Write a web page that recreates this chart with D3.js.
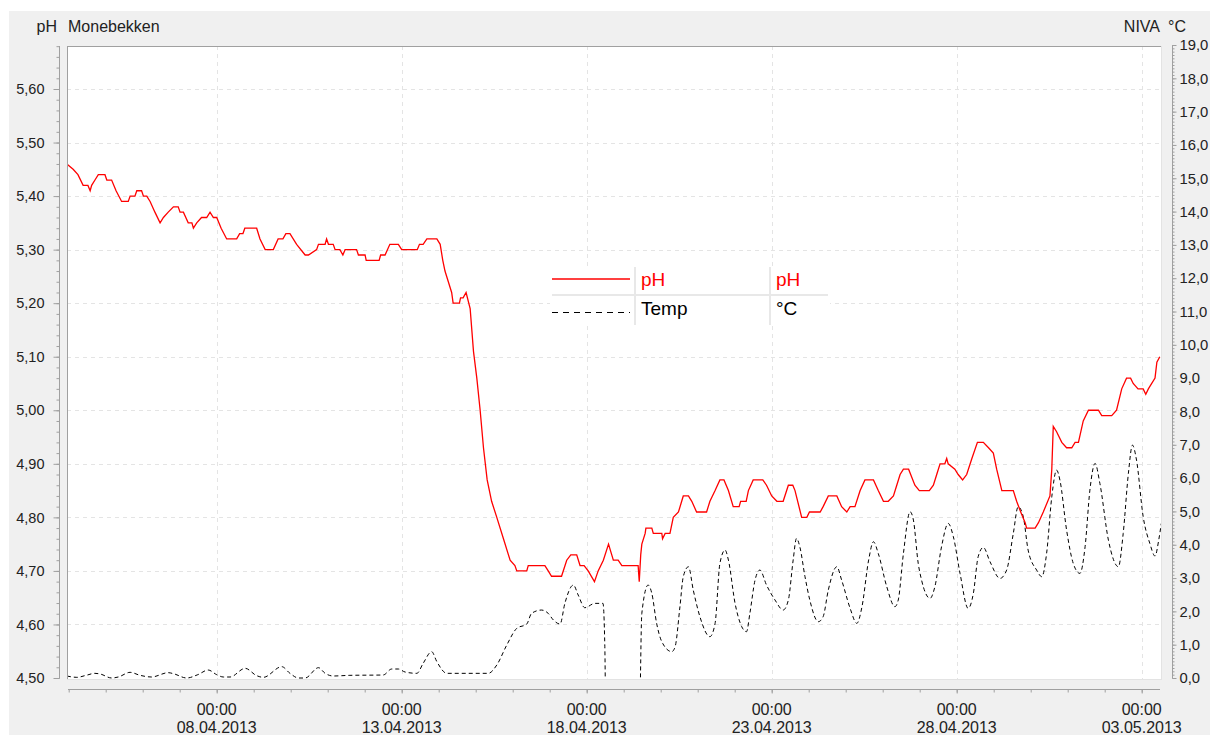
<!DOCTYPE html>
<html><head><meta charset="utf-8">
<script src="https://cdn.jsdelivr.net/npm/d3@7"></script>
<style>
body{margin:0;background:#fff}
svg{display:block}
text{font-family:"Liberation Sans",Arial,sans-serif}
</style>
</head><body>
<svg id="c" width="1210" height="735"></svg>
<script>
// ---- data (day offset from 04.04.2013 00:00 UTC, value) ----
const startDate = Date.UTC(2013, 3, 4);
const phData = [
[-0.05,5.46],[0.12,5.45],[0.25,5.44],[0.39,5.42],[0.52,5.42],[0.58,5.41],[0.62,5.42],[0.71,5.43],[0.80,5.44],[0.98,5.44],
[1.03,5.43],[1.16,5.43],[1.28,5.41],[1.43,5.39],[1.61,5.39],[1.66,5.40],[1.79,5.40],[1.84,5.41],[1.97,5.41],[2.02,5.40],
[2.11,5.40],[2.20,5.39],[2.33,5.37],[2.47,5.35],[2.56,5.36],[2.69,5.37],[2.83,5.38],[2.96,5.38],[3.01,5.37],[3.10,5.37],
[3.23,5.35],[3.33,5.35],[3.37,5.34],[3.46,5.35],[3.59,5.36],[3.73,5.36],[3.82,5.37],[3.91,5.36],[4.00,5.36],[4.12,5.34],
[4.27,5.32],[4.54,5.32],[4.62,5.33],[4.71,5.33],[4.76,5.34],[5.08,5.34],[5.17,5.32],[5.31,5.30],[5.53,5.30],[5.66,5.32],
[5.79,5.32],[5.87,5.33],[5.98,5.33],[6.16,5.31],[6.39,5.29],[6.48,5.29],[6.70,5.30],[6.75,5.31],[6.93,5.31],[6.97,5.32],
[7.02,5.31],[7.15,5.31],[7.20,5.30],[7.33,5.30],[7.41,5.29],[7.47,5.30],[7.78,5.30],[7.83,5.29],[8.01,5.29],[8.04,5.28],
[8.39,5.28],[8.43,5.29],[8.55,5.29],[8.68,5.31],[8.91,5.31],[9.00,5.30],[9.42,5.30],[9.48,5.31],[9.58,5.31],[9.68,5.32],
[9.95,5.32],[10.04,5.31],[10.11,5.28],[10.17,5.26],[10.26,5.24],[10.35,5.22],[10.39,5.20],[10.56,5.20],[10.59,5.21],[10.66,5.21],
[10.74,5.22],[10.85,5.19],[10.94,5.11],[11.03,5.06],[11.12,5.00],[11.21,4.93],[11.31,4.87],[11.43,4.83],[11.57,4.80],[11.75,4.76],
[11.93,4.72],[12.06,4.71],[12.11,4.70],[12.38,4.70],[12.42,4.71],[12.87,4.71],[12.96,4.70],[13.05,4.69],[13.32,4.69],[13.46,4.72],
[13.57,4.73],[13.73,4.73],[13.82,4.71],[13.93,4.71],[14.04,4.70],[14.21,4.68],[14.31,4.70],[14.45,4.72],[14.59,4.75],[14.72,4.72],
[14.85,4.72],[14.95,4.71],[15.39,4.71],[15.42,4.68],[15.46,4.73],[15.49,4.75],[15.58,4.77],[15.60,4.78],[15.76,4.78],[15.80,4.77],
[16.03,4.77],[16.05,4.76],[16.12,4.77],[16.25,4.77],[16.34,4.80],[16.48,4.81],[16.61,4.84],[16.75,4.84],[16.84,4.83],[16.97,4.81],
[17.24,4.81],[17.33,4.83],[17.47,4.85],[17.60,4.87],[17.71,4.87],[17.83,4.85],[17.96,4.82],[18.12,4.82],[18.16,4.83],[18.31,4.83],
[18.37,4.85],[18.50,4.87],[18.76,4.87],[18.86,4.86],[19.00,4.84],[19.14,4.83],[19.31,4.83],[19.45,4.86],[19.57,4.86],[19.63,4.85],
[19.81,4.80],[19.95,4.80],[20.02,4.81],[20.31,4.81],[20.39,4.82],[20.53,4.84],[20.76,4.84],[20.89,4.82],[21.03,4.81],[21.12,4.82],
[21.25,4.82],[21.39,4.85],[21.52,4.87],[21.75,4.87],[21.88,4.85],[22.02,4.83],[22.15,4.83],[22.29,4.84],[22.38,4.86],[22.47,4.88],
[22.56,4.89],[22.70,4.89],[22.87,4.86],[22.99,4.85],[23.26,4.85],[23.37,4.86],[23.46,4.88],[23.55,4.90],[23.68,4.90],[23.73,4.91],
[23.77,4.90],[23.95,4.89],[24.04,4.88],[24.16,4.87],[24.27,4.88],[24.41,4.91],[24.56,4.94],[24.72,4.94],[24.86,4.93],[24.99,4.92],
[25.08,4.89],[25.22,4.85],[25.53,4.85],[25.62,4.83],[25.73,4.81],[25.85,4.79],[25.89,4.78],[26.12,4.78],[26.21,4.79],[26.34,4.81],
[26.52,4.84],[26.57,4.89],[26.61,4.97],[26.70,4.96],[26.84,4.94],[26.97,4.93],[27.11,4.93],[27.20,4.94],[27.29,4.94],[27.42,4.98],
[27.56,5.00],[27.83,5.00],[27.92,4.99],[28.19,4.99],[28.32,5.00],[28.46,5.04],[28.59,5.06],[28.70,5.06],[28.77,5.05],[28.90,5.04],
[29.04,5.04],[29.11,5.03],[29.18,5.04],[29.36,5.06],[29.41,5.09],[29.49,5.10]
];
const tempData = [
[-0.05,0.06],[0.22,0.02],[0.47,0.08],[0.71,0.14],[0.85,0.12],[1.16,0.00],[1.34,0.03],[1.66,0.17],[1.93,0.08],[2.24,0.03],
[2.69,0.16],[2.83,0.13],[3.19,0.00],[3.49,0.10],[3.77,0.24],[4.00,0.10],[4.18,0.03],[4.36,0.03],[4.77,0.29],[5.08,0.07],
[5.26,0.02],[5.76,0.34],[5.98,0.14],[6.21,0.00],[6.39,0.00],[6.75,0.31],[6.93,0.14],[7.15,0.06],[7.60,0.08],[8.50,0.09],
[8.73,0.27],[8.91,0.27],[9.09,0.18],[9.41,0.14],[9.58,0.44],[9.81,0.79],[9.95,0.49],[10.22,0.14],[10.76,0.14],[11.34,0.14],
[11.57,0.39],[11.84,0.99],[12.11,1.49],[12.38,1.62],[12.51,1.94],[12.78,2.04],[12.96,1.94],[13.10,1.74],[13.28,1.62],[13.41,2.24],
[13.64,2.79],[13.77,2.49],[13.95,2.11],[14.22,2.24],[14.44,2.24],[14.49,0.94],[14.535,-3],[15.40,-3],[15.49,1.94],[15.66,2.79],
[15.76,2.54],[15.89,1.64],[16.03,1.09],[16.30,0.79],[16.39,0.94],[16.52,2.14],[16.61,3.04],[16.75,3.34],[16.88,2.64],[17.06,1.84],
[17.33,1.24],[17.47,1.64],[17.60,3.44],[17.74,3.84],[17.83,3.54],[18.01,2.24],[18.19,1.54],[18.32,1.39],[18.41,1.94],[18.55,2.94],
[18.68,3.24],[18.86,2.79],[19.09,2.34],[19.31,2.04],[19.45,2.34],[19.58,3.54],[19.67,4.19],[19.76,3.94],[19.90,3.04],[20.03,2.34],
[20.26,1.69],[20.39,1.84],[20.53,2.64],[20.76,3.34],[20.89,2.94],[21.12,2.09],[21.30,1.64],[21.44,2.14],[21.62,3.54],[21.75,4.09],
[21.88,3.74],[22.11,2.74],[22.33,2.14],[22.42,2.34],[22.56,3.74],[22.74,4.99],[22.83,4.74],[22.96,3.44],[23.05,2.94],[23.28,2.39],
[23.41,2.74],[23.59,3.94],[23.77,4.64],[23.91,4.24],[24.09,3.14],[24.31,2.09],[24.45,2.54],[24.58,3.64],[24.72,3.92],[24.90,3.49],
[25.17,2.99],[25.35,3.24],[25.53,4.34],[25.66,5.14],[25.80,4.84],[25.93,3.84],[26.16,3.24],[26.30,3.04],[26.43,3.74],[26.57,5.44],
[26.70,6.24],[26.79,5.94],[26.97,4.44],[27.15,3.44],[27.33,3.14],[27.47,3.94],[27.60,5.64],[27.74,6.44],[27.87,5.84],[28.10,4.14],
[28.37,3.34],[28.50,4.34],[28.64,6.14],[28.75,6.99],[28.86,6.54],[29.04,4.84],[29.22,4.04],[29.36,3.66],[29.46,4.14],[29.53,4.64]
];
const phTicks = [4.5,4.6,4.7,4.8,4.9,5.0,5.1,5.2,5.3,5.4,5.5,5.6];
const tempTicks = [0,1,2,3,4,5,6,7,8,9,10,11,12,13,14,15,16,17,18,19];
const xTickDates = ["2013-04-08","2013-04-13","2013-04-18","2013-04-23","2013-04-28","2013-05-03"];
const legendNames = ["pH","Temp"];
const legendUnits = ["pH","°C"];
const titleLeftUnit = "pH", titleText = "Monebekken", titleRight = "NIVA", titleRightUnit = "°C";

// ---- drawing ----
const svg = d3.select("#c");
const P = {left:67, top:46, right:1162, bottom:680};
const toDate = d => new Date(startDate + d * 864e5);
const x = d3.scaleUtc().domain([toDate(0), toDate(30)]).range([68.7, 68.7 + 30 * 37]);
const yPh = d3.scaleLinear().domain([4.5, 5.6]).range([678, 89]);
const yT = d3.scaleLinear().domain([0, 19]).range([678, 45]);
const comma = f => v => d3.format(f)(v).replace(".", ",");

svg.append("rect").attr("x", 9).attr("y", 11).attr("width", 1201).attr("height", 724).attr("fill", "#f0f0f0");
svg.append("rect").attr("x", P.left).attr("y", P.top).attr("width", P.right - P.left).attr("height", P.bottom - P.top).attr("fill", "#fff");

// grid
const grid = svg.append("g").attr("stroke", "#e4e4e4").attr("stroke-dasharray", "4,4").attr("stroke-width", 1);
phTicks.filter(v => v > 4.5).forEach(v => {
  grid.append("line").attr("x1", P.left).attr("x2", P.right).attr("y1", Math.round(yPh(v)) + 0.5).attr("y2", Math.round(yPh(v)) + 0.5);
});
xTickDates.forEach(s => {
  const xx = Math.round(x(new Date(s + "T00:00:00Z"))) + 0.5;
  grid.append("line").attr("x1", xx).attr("x2", xx).attr("y1", P.top).attr("y2", P.bottom);
});

// clip
svg.append("defs").append("clipPath").attr("id", "clip").append("rect")
  .attr("x", P.left).attr("y", P.top).attr("width", P.right - P.left).attr("height", P.bottom - P.top);

// legend box (white background over grid)
const lg = svg.append("g");
lg.append("rect").attr("x", 550).attr("y", 266).attr("width", 280).attr("height", 60).attr("fill", "#fff");
lg.append("line").attr("x1", 552).attr("x2", 828).attr("y1", 295).attr("y2", 295).attr("stroke", "#e8e8e8").attr("stroke-width", 2);
[635, 770].forEach(xx => lg.append("line").attr("x1", xx).attr("x2", xx).attr("y1", 267).attr("y2", 325).attr("stroke", "#e8e8e8").attr("stroke-width", 2));
lg.append("line").attr("x1", 552).attr("x2", 630).attr("y1", 279).attr("y2", 279).attr("stroke", "#ff0000").attr("stroke-width", 1.3);
lg.append("line").attr("x1", 552).attr("x2", 630).attr("y1", 312.5).attr("y2", 312.5).attr("stroke", "#000").attr("stroke-dasharray", "6,5").attr("stroke-width", 1.2);
const legColors = ["#ff0000", "#000"];
legendNames.forEach((n, i) => {
  lg.append("text").attr("x", 641).attr("y", 286 + i * 29).attr("font-size", 19).attr("fill", legColors[i]).text(n);
  lg.append("text").attr("x", 776).attr("y", 286 + i * 29).attr("font-size", 19).attr("fill", legColors[i]).text(legendUnits[i]);
});

// lines
const lines = svg.append("g").attr("clip-path", "url(#clip)");
lines.append("path").datum(tempData)
  .attr("fill", "none").attr("stroke", "#000").attr("stroke-width", 1).attr("stroke-dasharray", "4,3")
  .attr("d", d3.line().x(d => x(toDate(d[0]))).y(d => yT(d[1])).curve(d3.curveMonotoneX));
lines.append("path").datum(phData)
  .attr("fill", "none").attr("stroke", "#ff0000").attr("stroke-width", 1.3)
  .attr("d", d3.line().x(d => x(toDate(d[0]))).y(d => yPh(d[1])));

// plot border (sunken)
svg.append("line").attr("x1", P.left + 0.5).attr("x2", P.left + 0.5).attr("y1", P.top).attr("y2", P.bottom).attr("stroke", "#a0a0a0");
svg.append("line").attr("x1", P.left).attr("x2", P.right).attr("y1", P.top + 0.5).attr("y2", P.top + 0.5).attr("stroke", "#a0a0a0");
svg.append("line").attr("x1", P.right - 0.5).attr("x2", P.right - 0.5).attr("y1", P.top).attr("y2", P.bottom).attr("stroke", "#e3e3e3");
svg.append("line").attr("x1", P.left).attr("x2", P.right).attr("y1", P.bottom - 0.5).attr("y2", P.bottom - 0.5).attr("stroke", "#e3e3e3");

function styleAxis(g) {
  g.selectAll("path,line").attr("stroke", "#a0a0a0");
  g.selectAll("text").attr("fill", "#222").attr("font-family", '"Liberation Sans",Arial,sans-serif');
}

// left pH axis
const phMinor = d3.range(0, 60).map(i => +(4.5 + i * 0.02).toFixed(2)).filter(v => yPh(v) >= P.top);
const gL = svg.append("g").attr("transform", "translate(59.5,0)");
gL.call(d3.axisLeft(yPh).tickValues(phMinor).tickSize(3).tickFormat(""));
gL.select(".domain").attr("d", `M0,${P.top}V678.5`);
const gLM = svg.append("g").attr("transform", "translate(59.5,0)");
gLM.call(d3.axisLeft(yPh).tickValues(phTicks).tickSize(6).tickPadding(9).tickFormat(comma(".2f")));
gLM.select(".domain").remove();
gLM.selectAll("text").attr("font-size", 14.5);
styleAxis(gL); styleAxis(gLM);

// right temp axis
const tMinor = d3.range(0, 191).map(i => i / 10);
const gR = svg.append("g").attr("transform", "translate(1172.5,0)");
gR.call(d3.axisRight(yT).tickValues(tMinor).tickSize(2).tickFormat(""));
gR.select(".domain").attr("d", "M0,45V678.5");
const gRM = svg.append("g").attr("transform", "translate(1172.5,0)");
gRM.call(d3.axisRight(yT).tickValues(tempTicks).tickSize(4).tickPadding(3).tickFormat(comma(".1f")));
gRM.select(".domain").remove();
gRM.selectAll("text").attr("font-size", 14.8);
styleAxis(gR); styleAxis(gRM);

// bottom time axis
const dayTicks = d3.utcDay.range(toDate(0), toDate(29.6));
const gB = svg.append("g").attr("transform", "translate(0,689.5)");
gB.call(d3.axisBottom(x).tickValues(dayTicks).tickSize(3).tickFormat(""));
gB.select(".domain").attr("d", "M68,0H1160");
const majorDates = xTickDates.map(s => new Date(s + "T00:00:00Z"));
const gBM = svg.append("g").attr("transform", "translate(0,689.5)");
gBM.call(d3.axisBottom(x).tickValues(majorDates).tickSize(4).tickFormat(""));
gBM.select(".domain").remove();
styleAxis(gB); styleAxis(gBM);
const fT = d3.utcFormat("%H:%M"), fD = d3.utcFormat("%d.%m.%Y");
majorDates.forEach(d => {
  svg.append("text").attr("x", x(d)).attr("y", 715).attr("text-anchor", "middle").attr("font-size", 16).attr("fill", "#222").text(fT(d));
  svg.append("text").attr("x", x(d)).attr("y", 733).attr("text-anchor", "middle").attr("font-size", 16).attr("fill", "#222").text(fD(d));
});

// titles
svg.append("text").attr("x", 57).attr("y", 32).attr("text-anchor", "end").attr("font-size", 16).attr("fill", "#222").text(titleLeftUnit);
svg.append("text").attr("x", 68).attr("y", 32).attr("font-size", 16).attr("fill", "#222").text(titleText);
svg.append("text").attr("x", 1160).attr("y", 32).attr("text-anchor", "end").attr("font-size", 16).attr("fill", "#222").text(titleRight);
svg.append("text").attr("x", 1168).attr("y", 32).attr("font-size", 16).attr("fill", "#222").text(titleRightUnit);
</script>
</body></html>
